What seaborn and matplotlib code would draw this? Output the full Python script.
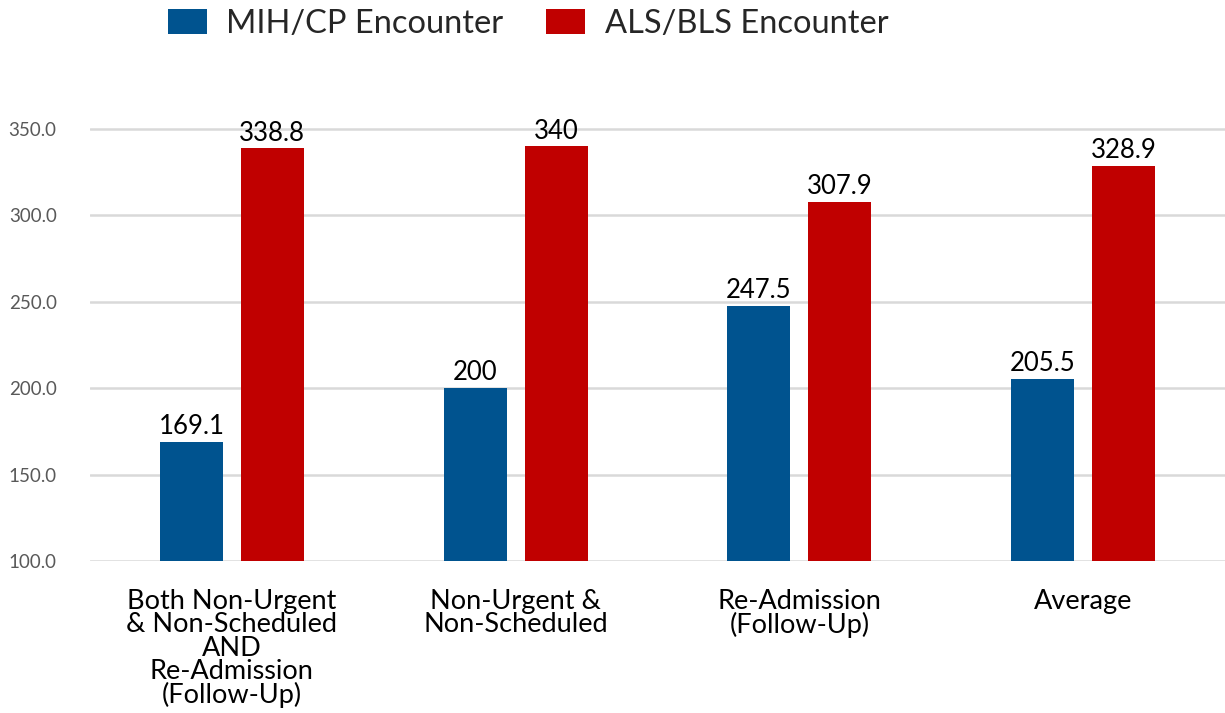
import matplotlib
matplotlib.use('Agg')
import matplotlib.pyplot as plt
import seaborn as sns
import pandas as pd

# valores
categorias = ['Both Non-Urgent\n& Non-Scheduled\nAND\nRe-Admission\n(Follow-Up)',
              'Non-Urgent &\nNon-Scheduled',
              'Re-Admission\n(Follow-Up)',
              'Average']
series = ['MIH/CP Encounter', 'ALS/BLS Encounter']
mih = [169.1, 200, 247.5, 205.5]
als = [338.8, 340, 307.9, 328.9]
rotulos_mih = ['169.1', '200', '247.5', '205.5']
rotulos_als = ['338.8', '340', '307.9', '328.9']
cores = ['#00538F', '#C00000']

df = pd.DataFrame({
    'cat': categorias * 2,
    'serie': [series[0]] * 4 + [series[1]] * 4,
    'valor': mih + als,
})

sns.set_style('white')
plt.rcParams['font.family'] = ['Lato', 'DejaVu Sans']

fig = plt.figure(figsize=(12.25, 7.13), dpi=100)
ax = fig.add_axes([0.0735, 0.2132, 0.9265, 0.63])

sns.barplot(data=df, x='cat', y='valor', hue='serie', palette=cores,
            width=0.57, gap=0.22, saturation=1, ax=ax, legend=True,
            edgecolor='none')

ax.set_ylim(100, 360)
ax.set_xlim(-0.5, 3.5)
ax.set_yticks([100, 150, 200, 250, 300, 350])
ax.set_yticklabels([f'{v:.1f}' for v in [100, 150, 200, 250, 300, 350]])
ax.yaxis.grid(True, color='#D9D9D9', linewidth=1.8)
ax.set_axisbelow(True)
for s in ax.spines.values():
    s.set_visible(False)
ax.tick_params(axis='y', colors='#595959', labelsize=13.5, length=0, pad=24)
ax.tick_params(axis='x', colors='black', labelsize=19.5, length=0, pad=20)
for t in ax.get_xticklabels():
    t.set_linespacing(0.92)
ax.set_xlabel('')
ax.set_ylabel('')

for cont, rot in zip(ax.containers, [rotulos_mih, rotulos_als]):
    ax.bar_label(cont, labels=rot, fontsize=18.5, padding=2, color='black')

leg = ax.legend(loc='center', bbox_to_anchor=(0.431, 0.966),
                bbox_transform=fig.transFigure, ncol=2, frameon=False,
                fontsize=23.5, handlelength=1.2, handleheight=0.8,
                handletextpad=0.6, columnspacing=1.3)

fig.savefig('out.png', dpi=100)
